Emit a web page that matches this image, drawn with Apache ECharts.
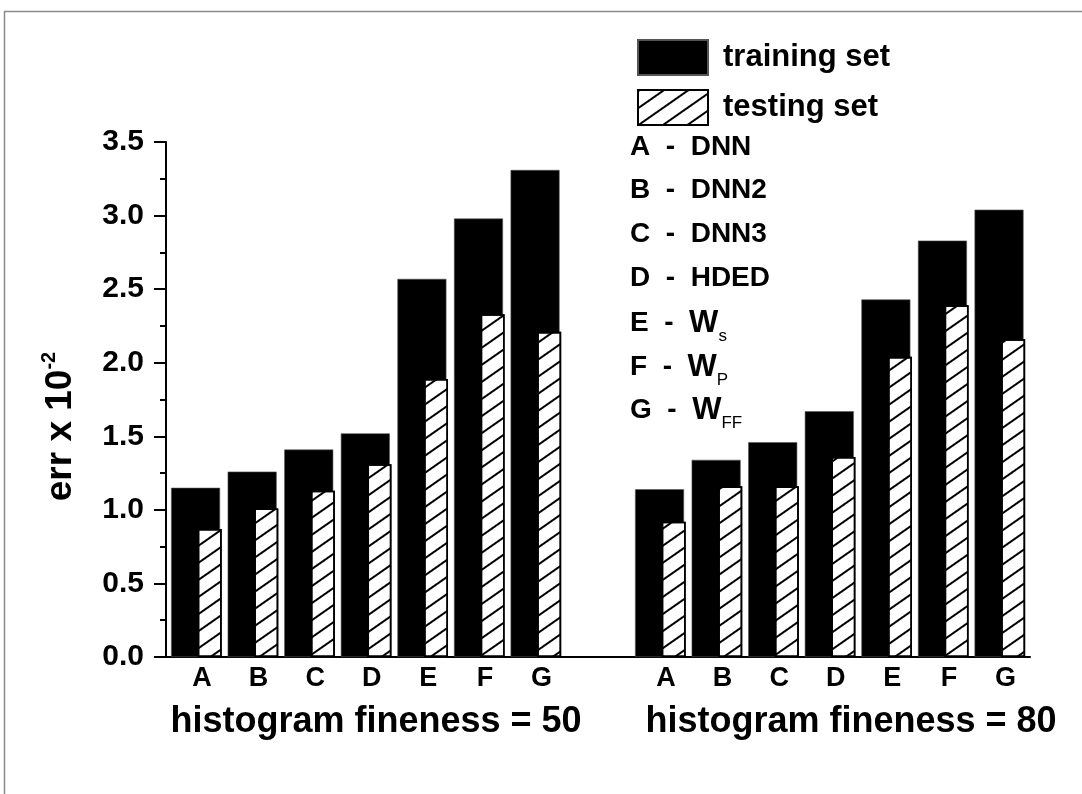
<!DOCTYPE html>
<html>
<head>
<meta charset="utf-8">
<script src="https://cdn.jsdelivr.net/npm/echarts@6/dist/echarts.min.js"></script>
<style>
  html, body { margin: 0; padding: 0; background: #fff; }
  #chart { width: 1082px; height: 794px; }
</style>
</head>
<body>
<div id="chart"></div>
<script>
// Methods compared, one letter per bar pair
const categories = ['A', 'B', 'C', 'D', 'E', 'F', 'G'];

// err x 10^-2 for histogram fineness = 50
const trainingF50 = [1.15, 1.26, 1.41, 1.52, 2.57, 2.98, 3.31];
const testingF50  = [0.87, 1.01, 1.13, 1.31, 1.89, 2.33, 2.21];

// err x 10^-2 for histogram fineness = 80
const trainingF80 = [1.14, 1.34, 1.46, 1.67, 2.43, 2.83, 3.04];
const testingF80  = [0.92, 1.16, 1.16, 1.36, 2.04, 2.39, 2.16];

const groupTitles = ['histogram fineness = 50', 'histogram fineness = 80'];
const seriesNames = ['training set', 'testing set'];

// Key: letter, method name, optional subscript on W
const methodKey = [
  ['A', 'DNN', ''],
  ['B', 'DNN2', ''],
  ['C', 'DNN3', ''],
  ['D', 'HDED', ''],
  ['E', 'W', 's'],
  ['F', 'W', 'P'],
  ['G', 'W', 'FF']
];

const yMin = 0, yMax = 3.5, yStep = 0.5;

// Slot of bar pair i in group g on the numeric x axis
const GROUP_SHIFT = 8.2;
const slot = (i, g) => 1 + i + g * GROUP_SHIFT;

const FONT = "'Liberation Sans', Arial, sans-serif";

const trainData = [];
const testData = [];
[[trainingF50, testingF50], [trainingF80, testingF80]].forEach(([tr, te], g) => {
  categories.forEach((c, i) => {
    trainData.push([slot(i, g), tr[i]]);
    testData.push([slot(i, g), te[i]]);
  });
});

// Letter labels under each bar pair
const LABEL_SHIFT = 0.1;
const letterAt = {};
const letterValues = [];
[0, 1].forEach(g => categories.forEach((c, i) => {
  const v = +(slot(i, g) + LABEL_SHIFT).toFixed(2);
  letterValues.push(v);
  letterAt[v.toFixed(2)] = c;
}));

const hatch = {
  symbol: 'rect',
  symbolSize: 1,
  color: '#000',
  dashArrayX: [1, 0],
  dashArrayY: [1.4, 11.5],
  rotation: -0.61
};

const chart = echarts.init(document.getElementById('chart'), null, { renderer: 'canvas' });

const keyGraphics = methodKey.map((row, k) => {
  const [letter, name, sub] = row;
  const text = sub
    ? `{n|${letter}  -  }{w|${name}}{s|${sub}}`
    : `{n|${letter}  -  ${name}}`;
  return {
    type: 'text',
    left: 630,
    top: 133 + k * 43.7,
    style: {
      text: text,
      rich: {
        n: { fontFamily: FONT, fontWeight: 'bold', fontSize: 28, fill: '#000', height: 32 },
        w: { fontFamily: FONT, fontWeight: 'bold', fontSize: 31, fill: '#000', height: 32 },
        s: { fontFamily: FONT, fontWeight: 'normal', fontSize: 17, fill: '#000', height: 32, padding: [26, 0, 0, 0] }
      }
    }
  };
});

const titleGraphics = groupTitles.map((t, g) => ({
  type: 'text',
  x: g === 0 ? 376 : 851,
  y: 722,
  style: {
    text: t,
    fontFamily: FONT,
    fontWeight: 'bold',
    fontSize: 36,
    fill: '#000',
    align: 'center',
    verticalAlign: 'middle'
  }
}));

chart.setOption({
  backgroundColor: '#fff',
  animation: false,
  grid: { left: 166, top: 142, width: 864, height: 515 },
  legend: {
    data: seriesNames,
    orient: 'vertical',
    left: 632,
    top: 34,
    icon: 'rect',
    itemWidth: 70,
    itemHeight: 35,
    itemGap: 13,
    selectedMode: false,
    textStyle: { fontFamily: FONT, fontWeight: 'bold', fontSize: 31, color: '#000', padding: [0, 0, 0, 10] }
  },
  xAxis: {
    type: 'value',
    min: 0.463,
    max: 15.733,
    splitLine: { show: false },
    axisTick: { show: false },
    axisLine: { show: true, onZero: false, lineStyle: { color: '#000', width: 2 } },
    axisLabel: {
      customValues: letterValues,
      formatter: v => letterAt[(+v).toFixed(2)] || '',
      margin: 8,
      fontFamily: FONT,
      fontWeight: 'bold',
      fontSize: 27,
      color: '#000'
    }
  },
  yAxis: {
    type: 'value',
    min: yMin,
    max: yMax,
    interval: yStep,
    name: '{a|err x 10}{b|-2}',
    nameLocation: 'middle',
    nameRotate: 90,
    nameGap: 83,
    nameTextStyle: {
      padding: [0, 54, 0, 0],
      rich: {
        a: { fontFamily: FONT, fontWeight: 'bold', fontSize: 37, color: '#000' },
        b: { fontFamily: FONT, fontWeight: 'bold', fontSize: 20, color: '#000', padding: [0, 0, 24, 0] }
      }
    },
    splitLine: { show: false },
    axisLine: { show: true, lineStyle: { color: '#000', width: 2 } },
    axisTick: { show: true, inside: false, length: 12, lineStyle: { color: '#000', width: 2 } },
    minorTick: { show: true, splitNumber: 2, length: 6, lineStyle: { color: '#000', width: 2 } },
    axisLabel: {
      margin: 22,
      formatter: v => v.toFixed(1),
      fontFamily: FONT,
      fontWeight: 'bold',
      fontSize: 30,
      color: '#000'
    }
  },
  series: [
    {
      name: seriesNames[0],
      type: 'bar',
      data: trainData,
      barWidth: 49,
      barGap: '-45.7%',
      itemStyle: { color: '#000', borderColor: '#555', borderWidth: 0.6 }
    },
    {
      name: seriesNames[1],
      type: 'bar',
      data: testData,
      barWidth: 24,
      barGap: '-45.7%',
      itemStyle: { color: '#fff', borderColor: '#000', borderWidth: 1.6, decal: hatch }
    }
  ],
  graphic: [
    {
      type: 'rect',
      shape: { x: 4.5, y: 11.5, width: 1200, height: 900 },
      style: { fill: 'none', stroke: '#8a8a8a', lineWidth: 1.5 },
      silent: true
    },
    ...keyGraphics,
    ...titleGraphics
  ]
});
</script>
</body>
</html>
